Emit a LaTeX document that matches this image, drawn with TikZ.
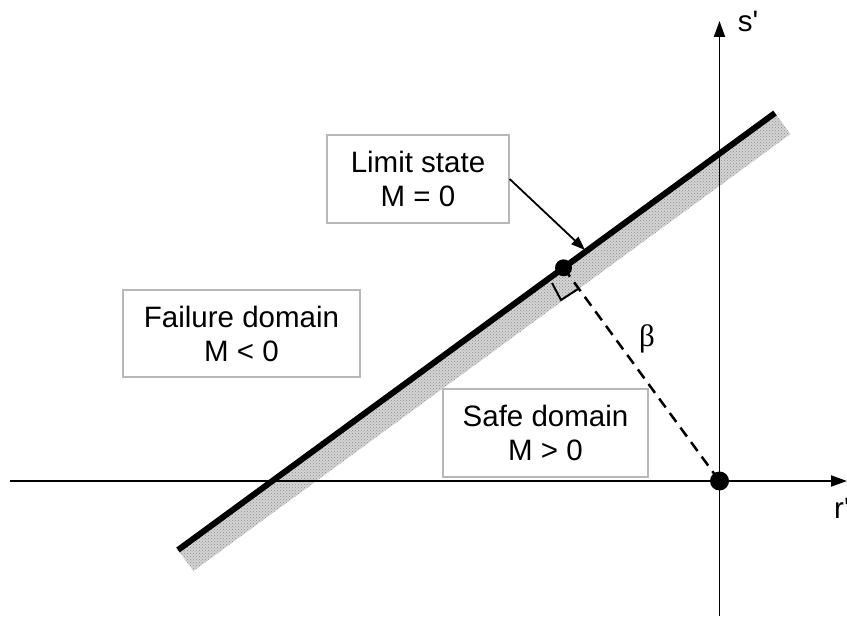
\documentclass[tikz,border=0pt]{standalone}
\usepackage{fontspec}
\setmainfont{Liberation Sans}
\newfontfamily\plainsans{Liberation Sans}
\newfontfamily\grkserif{Liberation Serif}
\usetikzlibrary{arrows.meta,patterns}
\tikzset{
  txt/.style={font=\fontsize{29.5}{34}\selectfont, align=center, inner sep=0pt},
  labelbox/.style={draw=black!28, line width=1.3pt, fill=white},
  axis/.style={line width=1.8pt, -{Triangle[length=16pt,width=11pt]}},
  limitline/.style={line width=6pt},
  band/.style={fill=black!17},
  bandpattern/.style={pattern=crosshatch dots, pattern color=black!45},
  dotmark/.style={circle, fill=black, inner sep=0pt},
}
\begin{document}
\begin{tikzpicture}[x=1pt,y=-1pt]
\useasboundingbox (0,0) rectangle (847,618);
% key points
\coordinate (A) at (178,550);
\coordinate (B) at (775,113);
\coordinate (A2) at (193.4,571);
\coordinate (B2) at (790.4,134);
\coordinate (O) at (719.5,481);
\coordinate (F) at (563.5,267.8);
\coordinate (xl) at (10,481);
\coordinate (xr) at (847,481);
\coordinate (yb) at (719.5,616);
\coordinate (yt) at (719.5,21);
% band
\fill[band] (A) -- (B) -- (B2) -- (A2) -- cycle;
\fill[bandpattern] (A) -- (B) -- (B2) -- (A2) -- cycle;
% axes
\draw[axis] (xl) -- (xr);
\draw[axis] (yb) -- (yt);
% limit state line
\draw[limitline] (A) -- (B);
% boxes
\node[labelbox, minimum width=182pt, minimum height=88pt] (ls) at (418,179) {};
\node[txt] (lstext) at (ls.center) {Limit state\\M = 0};
\node[labelbox, minimum width=237pt, minimum height=87pt] (fd) at (241.5,333.5) {};
\node[txt] (fdtext) at (fd.center) {Failure domain\\M {\char"3C} 0};
\node[labelbox, minimum width=205pt, minimum height=88pt] (sd) at (545.5,433) {};
\node[txt] (sdtext) at (sd.center) {Safe domain\\M {\char"3E} 0};
% beta distance
\draw[line width=2.5pt, dash pattern=on 11pt off 7pt] (F) -- (O);
\coordinate (r1) at (552,283);
\coordinate (r2) at (561,300);
\coordinate (r3) at (578,289);
\draw[line width=2pt] (r1) -- (r2) -- (r3);
\node[txt, font=\fontsize{31}{34}\grkserif] (beta) at (647,339) {β};
% dots
\node[dotmark, minimum size=17pt] (fdot) at (F) {};
\node[dotmark, minimum size=19pt] (odot) at (O) {};
% callout arrow
\coordinate (tip) at (585,250);
\draw[line width=1.8pt, -{Triangle[length=14pt,width=10pt]}] (ls.east) -- (tip);
% axis labels
\node[txt, font=\fontsize{29.5}{34}\plainsans] (slab) at (748,21) {s'};
\node[txt, font=\fontsize{29.5}{34}\plainsans, anchor=west] (rlab) at (834,508) {r'};
\end{tikzpicture}
\end{document}
